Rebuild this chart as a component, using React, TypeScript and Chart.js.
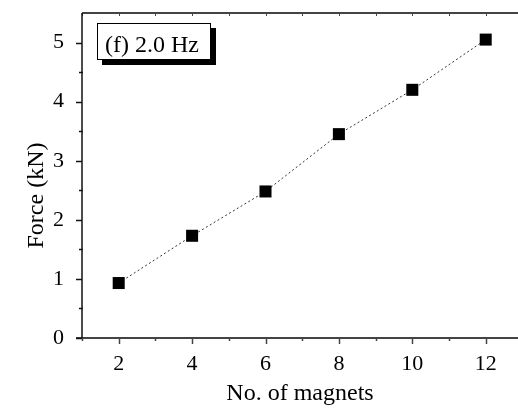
import React, { useEffect, useRef } from "react";
import { Chart, registerables } from "chart.js";

Chart.register(...registerables);

const magnetCounts = [2, 4, 6, 8, 10, 12];
const forceValues = [0.93, 1.73, 2.48, 3.45, 4.2, 5.05];
const xMajorTicks = [2, 4, 6, 8, 10, 12];
const xMinorTicks = [1, 3, 5, 7, 9, 11];
const yMajorTicks = [0, 1, 2, 3, 4, 5];
const yMinorTicks = [0.5, 1.5, 2.5, 3.5, 4.5];
const xTitle = "No. of magnets";
const yTitle = "Force (kN)";
const panelLabel = "(f) 2.0 Hz";

const FONT = "'Liberation Serif', 'Times New Roman', serif";

const framePlugin = {
  id: "frame",
  afterDraw(chart: any) {
    const ctx = chart.ctx;
    const { left, right, top, bottom } = chart.chartArea;
    const xs = chart.scales.x;
    const ys = chart.scales.y;
    ctx.save();
    // top axis
    ctx.strokeStyle = "#444";
    ctx.lineWidth = 2;
    ctx.beginPath();
    ctx.moveTo(left, top);
    ctx.lineTo(right, top);
    ctx.stroke();
    ctx.lineWidth = 1;
    [...xMajorTicks, ...xMinorTicks].forEach((v) => {
      const px = Math.round(xs.getPixelForValue(v)) + 0.5;
      ctx.beginPath();
      ctx.moveTo(px, top);
      ctx.lineTo(px, top + 3);
      ctx.stroke();
    });
    // bottom axis
    ctx.strokeStyle = "#444";
    ctx.lineWidth = 2;
    ctx.beginPath();
    ctx.moveTo(left - 6, bottom);
    ctx.lineTo(right, bottom);
    ctx.stroke();
    ctx.lineWidth = 1.5;
    xMajorTicks.forEach((v) => {
      const px = Math.round(xs.getPixelForValue(v)) + 0.5;
      ctx.beginPath();
      ctx.moveTo(px, bottom);
      ctx.lineTo(px, bottom + 6);
      ctx.stroke();
    });
    xMinorTicks.forEach((v) => {
      const px = Math.round(xs.getPixelForValue(v)) + 0.5;
      ctx.beginPath();
      ctx.moveTo(px, bottom);
      ctx.lineTo(px, bottom + 3);
      ctx.stroke();
    });
    // left axis
    ctx.strokeStyle = "#111";
    ctx.lineWidth = 1.5;
    ctx.beginPath();
    ctx.moveTo(left, top);
    ctx.lineTo(left, bottom);
    ctx.stroke();
    yMajorTicks.forEach((v) => {
      const py = Math.round(ys.getPixelForValue(v)) + 0.5;
      ctx.beginPath();
      ctx.moveTo(left - 6, py);
      ctx.lineTo(left, py);
      ctx.stroke();
    });
    yMinorTicks.forEach((v) => {
      const py = Math.round(ys.getPixelForValue(v)) + 0.5;
      ctx.beginPath();
      ctx.moveTo(left - 3, py);
      ctx.lineTo(left + 1, py);
      ctx.stroke();
    });
    // y title
    ctx.fillStyle = "#000";
    ctx.font = `24px ${FONT}`;
    ctx.textAlign = "center";
    ctx.textBaseline = "middle";
    ctx.translate(37, (top + bottom) / 2 + 20);
    ctx.rotate(-Math.PI / 2);
    ctx.fillText(yTitle, 0, 0);
    ctx.restore();

    // panel label box
    ctx.save();
    const bx = left + 15;
    const by = top + 10;
    const bw = 114;
    const bh = 37;
    ctx.fillStyle = "#000";
    ctx.fillRect(bx + 5, by + 5, bw, bh);
    ctx.fillStyle = "#fff";
    ctx.fillRect(bx, by, bw, bh);
    ctx.strokeStyle = "#000";
    ctx.lineWidth = 1;
    ctx.strokeRect(bx + 0.5, by + 0.5, bw - 1, bh - 1);
    ctx.fillStyle = "#000";
    ctx.font = `24px ${FONT}`;
    ctx.textAlign = "left";
    ctx.textBaseline = "alphabetic";
    ctx.fillText(panelLabel, bx + 8, by + 29);
    ctx.restore();
  },
};

export default function App() {
  const canvasRef = useRef<HTMLCanvasElement | null>(null);

  useEffect(() => {
    document.body.style.margin = "0";
    const canvas = canvasRef.current;
    if (!canvas) return;
    const chart = new Chart(canvas, {
      type: "line",
      data: {
        datasets: [
          {
            data: magnetCounts.map((x, i) => ({ x, y: forceValues[i] })),
            borderColor: "#333",
            borderWidth: 1,
            borderDash: [2, 2.5],
            pointStyle: "rect",
            pointRadius: 8.5,
            pointBackgroundColor: "#000",
            pointBorderColor: "#000",
            pointBorderWidth: 0,
            fill: false,
          },
        ],
      },
      options: {
        animation: false,
        responsive: false,
        devicePixelRatio: 1,
        layout: { autoPadding: false, padding: { top: 13, left: 0, right: 0, bottom: 0 } },
        plugins: {
          legend: { display: false },
          tooltip: { enabled: false },
        },
        scales: {
          x: {
            type: "linear",
            min: 1,
            max: 12.88,
            grid: { display: false },
            border: { display: false },
            afterBuildTicks: (s: any) => {
              s.ticks = xMajorTicks.map((v) => ({ value: v }));
            },
            afterFit: (s: any) => {
              s.height = 70;
              s.paddingLeft = 0;
              s.paddingRight = 0;
            },
            ticks: {
              color: "#000",
              font: { family: FONT, size: 22 },
              padding: 5,
              maxRotation: 0,
              autoSkip: false,
            },
            title: {
              display: true,
              text: xTitle,
              color: "#000",
              font: { family: FONT, size: 24 },
              padding: { top: 0, bottom: 0 },
            },
          },
          y: {
            type: "linear",
            min: 0,
            max: 5.5,
            grid: { display: false },
            border: { display: false },
            afterBuildTicks: (s: any) => {
              s.ticks = yMajorTicks.map((v) => ({ value: v }));
            },
            afterFit: (s: any) => {
              s.width = 82;
              s.paddingTop = 0;
              s.paddingBottom = 0;
            },
            ticks: {
              color: "#000",
              font: { family: FONT, size: 22 },
              padding: 10,
              autoSkip: false,
            },
          },
        },
      },
      plugins: [framePlugin],
    });
    return () => chart.destroy();
  }, []);

  return (
    <div style={{ width: 518, height: 408, background: "#fff" }}>
      <canvas ref={canvasRef} width={518} height={408} style={{ display: "block" }} />
    </div>
  );
}
